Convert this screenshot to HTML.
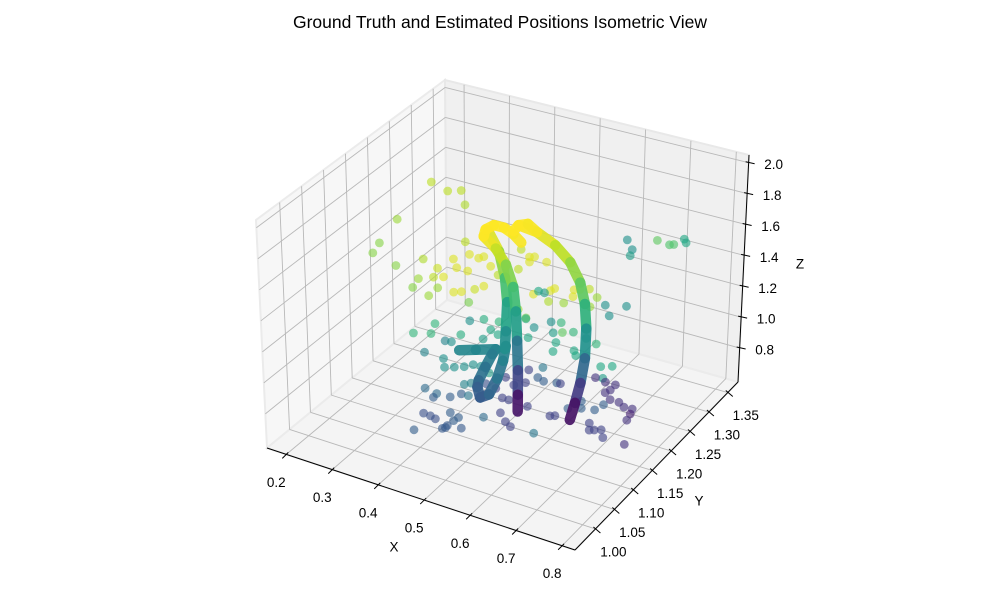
<!DOCTYPE html>
<html><head><meta charset="utf-8"><style>
html,body{margin:0;padding:0;background:#fff;}
svg{display:block;font-family:"Liberation Sans",sans-serif;}
</style></head><body>
<svg id="chart" width="1000" height="600" viewBox="0 0 1000 600" xmlns="http://www.w3.org/2000/svg">
<text x="500" y="28" text-anchor="middle" font-size="17.5" fill="#000">Ground Truth and Estimated Positions Isometric View</text>
<g id="panes"></g>
<g id="grid"></g>
<g id="axes"></g>
<g id="est"></g>
<g id="gt"></g>
</svg>
<script>
const xTicks=[0.2,0.3,0.4,0.5,0.6,0.7,0.8];
const xTickLabels=["0.2","0.3","0.4","0.5","0.6","0.7","0.8"];
const yTicks=[1.00,1.05,1.10,1.15,1.20,1.25,1.30,1.35];
const yTickLabels=["1.00","1.05","1.10","1.15","1.20","1.25","1.30","1.35"];
const zTicks=[0.8,1.0,1.2,1.4,1.6,1.8,2.0];
const zTickLabels=["0.8","1.0","1.2","1.4","1.6","1.8","2.0"];
const xLim=[0.158,0.828], yLim=[0.946,1.377], zLim=[0.58,2.05];

const estX=[.330,.365,.394,.402,.255,.215,.200,.250,.310,.376,.411,.402,.431,.442,.341,.383,.407,.354,.332,.299,.376,.393,.422,.321,.286,.341,.442,.457,.473,.517,.541,.552,.578,.523,.541,.550,.587,.596,.638,.651,.671,.636,.583,.616,.688,.673,.534,.517,.409,.561,.574,.706,.715,.752,.750,.761,.757,.814,.840,.849,.871,.875,
.286,.334,.325,.391,.411,.442,.457,.475,.473,.440,.534,.552,.589,.611,.594,.614,.638,.600,.594,.640,.644,.666,.688,.699,.724,.704,.539,.370,.356,.310,.352,.376,.354,.398,.418,.435,.453,.413,.398,.310,.336,.391,.446,.468,.490,.508,.534,.541,.561,.574,.572,.603,.611,.688,.710,.721,.732,
.408,.445,.485,.559,.573,.614,.518,.555,.566,.577,.663,.674,.628,.386,.401,.412,.445,.452,.463,.438,.427,.434,.469,.364,.793,.812,.823,.841,.837,.830,.779,.760,.731,.702,.731,.749,.749,.760,.775,.779,.826,.782];
const estZ=[1.982,1.952,1.979,1.893,1.677,1.488,1.410,1.370,1.464,1.520,1.579,1.653,1.572,1.590,1.430,1.469,1.468,1.385,1.365,1.327,1.305,1.322,1.362,1.234,1.258,1.303,1.400,1.541,1.498,1.572,1.671,1.681,1.669,1.705,1.639,1.439,1.493,1.514,1.541,1.554,1.573,1.495,1.420,1.438,1.533,1.461,1.273,1.313,1.267,1.468,1.468,1.499,1.438,1.530,1.952,1.899,1.857,2.000,1.993,2.002,2.054,2.033,
.961,1.064,.992,1.042,1.149,1.185,1.130,1.197,1.113,1.056,1.267,1.226,1.294,1.308,1.228,1.247,1.270,1.171,1.108,1.152,1.124,1.253,1.236,1.101,1.124,1.030,1.150,.977,.971,.857,.853,.818,.798,.840,.871,.875,.848,.747,.726,.623,.611,.657,.772,.761,.852,.818,.856,.944,.912,.899,.986,.914,.916,1.021,1.011,.970,1.012,
.852,.888,.932,.984,.984,.979,.824,.885,.839,.817,.962,.973,.821,.730,.726,.717,.787,.742,.772,.698,.669,.681,.709,.602,1.180,1.180,1.159,1.163,1.128,1.083,1.136,1.086,1.071,1.044,1.116,.993,.949,.959,.974,.928,.927,1.214];
const estC=[.9,.9,.9,.88,.85,.82,.82,.82,.88,.95,.95,.9,.95,.95,.92,.95,.95,.95,.9,.85,.95,.95,.92,.85,.82,.85,.95,.95,.9,.9,.95,.95,.95,.9,.95,.95,.95,.95,.95,.95,.9,.95,.88,.85,.85,.85,.8,.85,.8,.6,.55,.5,.5,.5,.5,.5,.55,.75,.72,.72,.6,.6,
.65,.65,.65,.62,.5,.62,.6,.65,.6,.55,.62,.5,.5,.65,.55,.75,.65,.6,.6,.6,.6,.6,.65,.6,.6,.55,.6,.5,.45,.45,.5,.5,.5,.5,.5,.5,.55,.45,.45,.35,.35,.3,.25,.2,.2,.2,.2,.2,.3,.3,.4,.3,.2,.15,.15,.15,.15,
.3,.3,.4,.2,.2,.2,.35,.2,.2,.2,.2,.2,.4,.25,.25,.25,.3,.3,.3,.28,.28,.28,.28,.3,.15,.15,.15,.15,.1,.15,.3,.3,.3,.3,.3,.2,.2,.2,.2,.2,.15,.15];
const estYA=1.162, estYB=1.075, estSplit=119;

const gtY=1.162;
const arcX=[.517,.557,.596,.629,.651,.662,.666,.664,.655,.644,.633];
const arcZ=[1.856,1.844,1.792,1.710,1.598,1.470,1.316,1.124,.958,.821,.703];
const arcC=[1,.98,.93,.87,.8,.7,.58,.42,.25,.1,0];
const midX=[.442,.468,.490,.506,.512,.515,.517,.517,.517];
const midZ=[1.722,1.665,1.579,1.448,1.296,1.109,.921,.763,.655];
const midC=[1,.95,.87,.75,.62,.48,.3,.12,0];
const innerX=[.451,.475,.488,.493,.490,.488];
const innerZ=[1.768,1.652,1.494,1.340,1.149,1.033];
const innerC=[1,.9,.76,.64,.52,.46];
const hookX=[.387,.424,.468,.460,.445,.430,.427,.433,.453,.471,.484,.490];
const hookZ=[.937,.972,1.014,.975,.880,.780,.734,.671,.709,.827,.953,1.054];
const hookC=[.46,.46,.45,.43,.4,.35,.32,.28,.3,.36,.42,.46];
const loopX=[.442,.446,.464,.486,.506,.523];
const loopZ=[1.722,1.770,1.813,1.814,1.789,1.749];
const loopC=[1,1,1,1,1,.98];
const topX=[.506,.517,.537,.557];
const topZ=[1.808,1.856,1.881,1.844];
const topC=[1,1,1,.98];

const NS="http://www.w3.org/2000/svg";
const C={L:[267,448],F:[575,550],R:[738,382],B:[447,300],Lt:[256,220],Ft:[579,314],Rt:[749,155],Bt:[445,80]};
function lerp(a,b,t){return [a[0]+(b[0]-a[0])*t,a[1]+(b[1]-a[1])*t];}
function P(x,y,z){
  const u=(x-xLim[0])/(xLim[1]-xLim[0]), v=(y-yLim[0])/(yLim[1]-yLim[0]), w=(z-zLim[0])/(zLim[1]-zLim[0]);
  const fl=lerp(lerp(C.L,C.F,u),lerp(C.B,C.R,u),v);
  const tp=lerp(lerp(C.Lt,C.Ft,u),lerp(C.Bt,C.Rt,u),v);
  return lerp(fl,tp,w);
}
const VS=["#440154","#482475","#414487","#355f8d","#2a788e","#21918c","#22a884","#44bf70","#7ad151","#bddf26","#fde725"];
function hx(s){return [parseInt(s.substr(1,2),16),parseInt(s.substr(3,2),16),parseInt(s.substr(5,2),16)];}
function viridis(t){t=Math.max(0,Math.min(1,t));const f=t*10,i=Math.min(9,Math.floor(f)),r=f-i;const a=hx(VS[i]),b=hx(VS[i+1]);
  return "rgb("+a.map((c,k)=>Math.round(c+(b[k]-c)*r)).join(",")+")";}
function el(tag,attrs,parent){const e=document.createElementNS(NS,tag);for(const k in attrs)e.setAttribute(k,attrs[k]);parent.appendChild(e);return e;}
function pts(a){return a.map(p=>p[0].toFixed(1)+","+p[1].toFixed(1)).join(" ");}

const panes=document.getElementById('panes');
const [x0,x1]=xLim,[y0,y1]=yLim,[z0,z1]=zLim;
let e;
e=el('polygon',{points:pts([P(x0,y0,z0),P(x0,y1,z0),P(x0,y1,z1),P(x0,y0,z1)]),fill:"#f7f7f7",stroke:"#ebebeb","stroke-width":2},panes);


e=el('polygon',{points:pts([P(x0,y1,z0),P(x1,y1,z0),P(x1,y1,z1),P(x0,y1,z1)]),fill:"#f0f0f0",stroke:"#e8e8e8","stroke-width":2},panes);


e=el('polygon',{points:pts([P(x0,y0,z0),P(x1,y0,z0),P(x1,y1,z0),P(x0,y1,z0)]),fill:"#f4f4f4",stroke:"#ebebeb","stroke-width":2},panes);



const grid=document.getElementById('grid');
function gl(a,b,name){const l=el('line',{x1:a[0],y1:a[1],x2:b[0],y2:b[1],stroke:"#b8b8b8","stroke-width":0.9},grid);
  
  }
xTicks.forEach(x=>{gl(P(x,y0,z0),P(x,y1,z0),'floor-grid-x');gl(P(x,y1,z0),P(x,y1,z1),'back-grid-x');});
yTicks.forEach(y=>{gl(P(x0,y,z0),P(x1,y,z0),'floor-grid-y');gl(P(x0,y,z0),P(x0,y,z1),'left-grid-y');});
zTicks.forEach(z=>{gl(P(x0,y0,z),P(x0,y1,z),'left-grid-z');gl(P(x0,y1,z),P(x1,y1,z),'back-grid-z');});

const axes=document.getElementById('axes');
function al(a,b,name){const l=el('line',{x1:a[0],y1:a[1],x2:b[0],y2:b[1],stroke:"#000","stroke-width":1},axes);
  
  }
function tx(p,s,name,size){const t=el('text',{x:p[0].toFixed(1),y:p[1].toFixed(1),"text-anchor":"middle","dominant-baseline":"central","font-size":size||13.5,fill:"#000"},axes);t.textContent=s;
  
  }
al(P(x0,y0,z0),P(x1,y0,z0),'x-axis-line');
al(P(x1,y0,z0),P(x1,y1,z0),'y-axis-line');
al(P(x1,y1,z0),P(x1,y1,z1),'z-axis-line');
xTicks.forEach((x,i)=>{const p=P(x,y0,z0);al([p[0]+2,p[1]-2],[p[0]-4,p[1]+4],'x-tick');tx([p[0]-10,p[1]+28],xTickLabels[i],'x-tick-label');});
yTicks.forEach((y,i)=>{const p=P(x1,y,z0);al([p[0]-2,p[1]-2],[p[0]+5,p[1]+4],'y-tick');tx([p[0]+18,p[1]+23],yTickLabels[i],'y-tick-label');});
zTicks.forEach((z,i)=>{const p=P(x1,y1,z);al([p[0]-3,p[1]-1],[p[0]+6,p[1]+1],'z-tick');tx([p[0]+25,p[1]+2],zTickLabels[i],'z-tick-label');});
tx([394,547],"X",'x-axis-title');
tx([699,501],"Y",'y-axis-title');
tx([800,264],"Z",'z-axis-title');

const est=document.getElementById('est');
estX.forEach((x,i)=>{const y=i<estSplit?estYA:estYB;const p=P(x,y,estZ[i]);
  const c=el('circle',{cx:p[0].toFixed(1),cy:p[1].toFixed(1),r:4.4,fill:viridis(estC[i]),"fill-opacity":0.62},est);
  
  });

const gt=document.getElementById('gt');
function strand(X,Z,Cc,name){for(let i=0;i<X.length-1;i++){const a=P(X[i],gtY,Z[i]),b=P(X[i+1],gtY,Z[i+1]);
  const l=el('line',{x1:a[0].toFixed(1),y1:a[1].toFixed(1),x2:b[0].toFixed(1),y2:b[1].toFixed(1),stroke:viridis((Cc[i]+Cc[i+1])/2),"stroke-width":10.5,"stroke-linecap":"round","stroke-opacity":0.92},gt);
  
  }}
strand(hookX,hookZ,hookC,'trajectory-hook');
strand(innerX,innerZ,innerC,'trajectory-inner');
strand(midX,midZ,midC,'trajectory-middle');
strand(arcX,arcZ,arcC,'trajectory-arch');
strand(loopX,loopZ,loopC,'trajectory-top-loop');
strand(topX,topZ,topC,'trajectory-top-arc');
</script>
</body></html>
